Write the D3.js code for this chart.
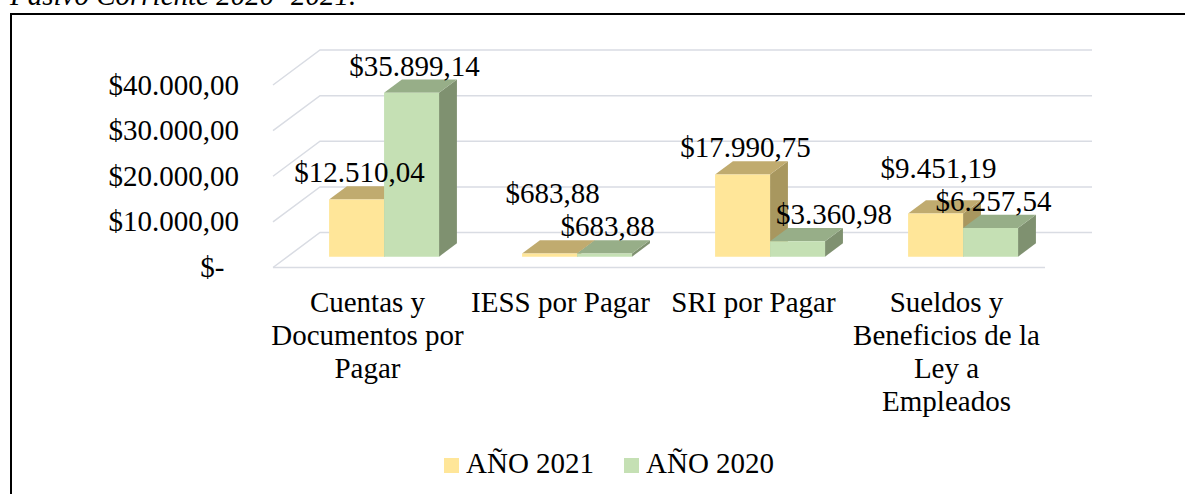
<!DOCTYPE html>
<html>
<head>
<meta charset="utf-8">
<script src="https://cdn.jsdelivr.net/npm/d3@7"></script>
<style>
  body { margin: 0; background: #fff; }
  text { font-family: "Liberation Serif", "Times New Roman", serif; fill: #000; }
</style>
</head>
<body>
<div id="chart"></div>
<script>
// datos del grafico
var categories = ["Cuentas y Documentos por Pagar", "IESS por Pagar", "SRI por Pagar", "Sueldos y Beneficios de la Ley a Empleados"];
var anio2021 = [12510.04, 683.88, 17990.75, 9451.19];
var anio2020 = [35899.14, 683.88, 3360.98, 6257.54];
var seriesNames = ["AÑO 2021", "AÑO 2020"];
var tickValues = [0, 10000, 20000, 30000, 40000];
var tickLabels = ["$-\u00a0\u00a0", "$10.000,00", "$20.000,00", "$30.000,00", "$40.000,00"];

var colors = {
    "AÑO 2021": {front: "#ffe699", top: "#c0ab6f", side: "#a8975f"},
    "AÑO 2020": {front: "#c5e0b4", top: "#97ae88", side: "#7f9170"}
};

var width = 1185, height = 494;
var DX = 47, DY = 35;        // profundidad del piso (vista 3D)
var z0 = 0.31, z1 = 0.69;    // profundidad de las barras
var fs = 29;

var es = d3.formatLocale({decimal: ",", thousands: ".", grouping: [3], currency: ["$", ""]});
var fmt = es.format("$,.2f");

var svg = d3.select("#chart")
  .append("svg")
    .attr("width", width)
    .attr("height", height);

svg.append("rect").attr("width", width).attr("height", height).attr("fill", "#fff");

function proj(x, y, z) { return [x + z * DX, y - z * DY]; }

var x = d3.scaleBand()
    .domain(categories)
    .range([273, 1045])
    .padding(0);

var xs = d3.scaleBand()
    .domain(seriesNames)
    .range([0, x.bandwidth()])
    .paddingInner(0)
    .paddingOuter(0.755);

var y = d3.scaleLinear()
    .domain([0, 40000])
    .range([267.5, 85]);

// titulo (cortado arriba)
svg.append("text")
    .attr("x", 10)
    .attr("y", 5)
    .style("font-size", fs + "px")
    .style("font-style", "italic")
    .text("Pasivo Corriente 2020 -2021.");

// marco
svg.append("path")
    .attr("d", "M11," + height + "V14H" + width)
    .attr("fill", "none")
    .attr("stroke", "#000")
    .attr("stroke-width", 2);

// lineas de cuadricula: pared izquierda y pared del fondo
var x0 = x.range()[0], x1 = x.range()[1];
var grid = svg.append("g").attr("fill", "none").attr("stroke", "#d9dce3").attr("stroke-width", 1.5);
tickValues.forEach(function(v) {
    var a = proj(x0, y(v), 0), b = proj(x0, y(v), 1), c = proj(x1, y(v), 1);
    grid.append("path").attr("d", "M" + a + "L" + b + "L" + c);
});
grid.append("path").attr("d", "M" + proj(x0, y(0), 0) + "L" + proj(x1, y(0), 0));

// etiquetas del eje Y
svg.append("g").selectAll("text")
    .data(tickValues)
    .enter()
    .append("text")
      .attr("x", 239)
      .attr("y", function(d) { return y(d); })
      .attr("dy", "0.33em")
      .attr("text-anchor", "end")
      .style("font-size", fs + "px")
      .text(function(d, i) { return tickLabels[i]; });

// barras
var rows = categories.map(function(c, i) {
    return [
        {cat: c, key: seriesNames[0], value: anio2021[i]},
        {cat: c, key: seriesNames[1], value: anio2020[i]}
    ];
});

function poly(pts) { return "M" + pts.join("L") + "Z"; }

rows.forEach(function(pair) {
    pair.forEach(function(d) {
        var bx = x(d.cat) + xs(d.key), w = xs.bandwidth();
        var yt = y(d.value), yb = y(0);
        var g = svg.append("g");
        g.append("path").attr("fill", colors[d.key].side)
            .attr("d", poly([proj(bx + w, yt, z0), proj(bx + w, yt, z1), proj(bx + w, yb, z1), proj(bx + w, yb, z0)]));
        g.append("path").attr("fill", colors[d.key].top)
            .attr("d", poly([proj(bx, yt, z0), proj(bx + w, yt, z0), proj(bx + w, yt, z1), proj(bx, yt, z1)]));
        g.append("path").attr("fill", colors[d.key].front)
            .attr("d", poly([proj(bx, yt, z0), proj(bx + w, yt, z0), proj(bx + w, yb, z0), proj(bx, yb, z0)]));
    });
});

// etiquetas de datos
var labels = svg.append("g");
function box(t) { var b = t.node().getBBox(); return {x0: b.x, x1: b.x + b.width, y0: b.y + 6, y1: b.y + b.height - 6}; }
function overlap(a, b) { return a.x0 < b.x1 && b.x0 < a.x1 && a.y0 < b.y1 && b.y0 < a.y1; }

rows.forEach(function(pair) {
    var t = pair.map(function(d) {
        var bx = x(d.cat) + xs(d.key), w = xs.bandwidth();
        var p = proj(bx + w / 2, y(d.value), z1);
        return labels.append("text")
            .attr("x", bx + z0 * DX + w / 2 + 3)
            .attr("y", p[1] - 4)
            .attr("text-anchor", "middle")
            .style("font-size", fs + "px")
            .text(fmt(d.value));
    });
    // la etiqueta verde no debe tapar la cara frontal amarilla
    var a = pair[0];
    var ax = x(a.cat) + xs(a.key) + z0 * DX, aw = xs.bandwidth();
    var front = {x0: ax, x1: ax + aw, y0: y(a.value) - z0 * DY, y1: y(0) - z0 * DY};
    var bg = box(t[1]);
    if (overlap(bg, front)) {
        var shift = front.x1 + 6 - bg.x0;
        t[1].attr("x", +t[1].attr("x") + shift);
    }
    // la etiqueta amarilla sube si choca con la verde
    if (overlap(box(t[0]), box(t[1]))) {
        t[0].attr("y", +t[1].attr("y") - 33);
    }
});

// etiquetas de categorias
function wrap(text, maxW) {
    text.each(function() {
        var el = d3.select(this), words = el.text().split(/\s+/), line = [], lines = [];
        el.text(null);
        var tmp = el.append("tspan");
        words.forEach(function(wd) {
            line.push(wd);
            tmp.text(line.join(" "));
            if (tmp.node().getComputedTextLength() > maxW && line.length > 1) {
                line.pop();
                lines.push(line.join(" "));
                line = [wd];
            }
        });
        lines.push(line.join(" "));
        tmp.remove();
        lines.forEach(function(l, i) {
            el.append("tspan").attr("x", el.attr("x")).attr("dy", i === 0 ? 0 : 33).text(l);
        });
    });
}

svg.append("g").selectAll("text")
    .data(categories)
    .enter()
    .append("text")
      .attr("x", function(d) { return x(d) + x.bandwidth() / 2 - 2; })
      .attr("y", 312)
      .attr("text-anchor", "middle")
      .style("font-size", fs + "px")
      .text(function(d) { return d; })
      .call(wrap, 196);

// leyenda
var legX = [444, 624];
var leg = svg.append("g");
seriesNames.forEach(function(s, i) {
    leg.append("rect")
        .attr("x", legX[i]).attr("y", 458)
        .attr("width", 15).attr("height", 15)
        .attr("fill", colors[s].front);
    leg.append("text")
        .attr("x", legX[i] + 22).attr("y", 473)
        .style("font-size", fs + "px")
        .text(s);
});
</script>
</body>
</html>
